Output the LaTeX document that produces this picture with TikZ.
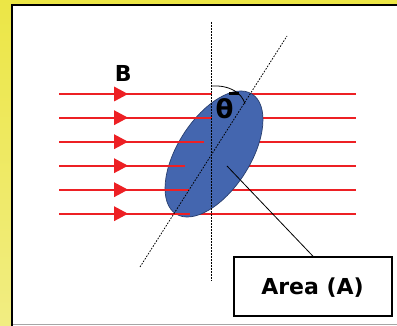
\documentclass[tikz,border=0pt]{standalone}
\usepackage{fontspec}
\setmainfont{DejaVu Sans}
\definecolor{ytop}{RGB}{236,230,70}
\definecolor{ybot}{RGB}{241,237,130}
\definecolor{fieldred}{RGB}{237,32,36}
\definecolor{discfill}{RGB}{68,102,175}
\definecolor{discedge}{RGB}{40,62,110}
\tikzset{
  fieldline/.style={draw=fieldred, line width=2pt},
  fieldtip/.style={fill=fieldred},
  axisline/.style={draw=black, line width=0.8pt, dash pattern=on 1.6pt off 1.4pt},
  bigtext/.style={font=\bfseries\fontsize{22}{22}\selectfont, inner sep=0pt}
}
\begin{document}
\begin{tikzpicture}[x=1pt,y=-1pt]
\useasboundingbox (0,0) rectangle (397,326);
% yellow background
\shade[top color=ytop, bottom color=ybot] (0,0) rectangle (397,326);
% white panel
\fill[white] (12,5) rectangle (400,326);
\draw[gray!70, line width=1pt] (12,324.5) -- (400,324.5);
\draw[black, line width=2.5pt] (12.2,330) -- (12.2,5.2) -- (400,5.2);
% field lines under the disc
\draw[fieldline] (59,94) -- (212,94);
\draw[fieldline] (246,94) -- (356,94);
\foreach \yy in {117.7,141.7,165.7,189.7,213.7}
  \draw[fieldline] (59,\yy) -- (356,\yy);
% disc
\filldraw[fill=discfill, draw=discedge, line width=0.7pt, rotate around={57.5:(214,154)}] (214,154) ellipse [x radius=71pt, y radius=36.4pt];
% field line parts over the disc
\draw[fieldline] (160,117.7) -- (212,117.7);
\draw[fieldline] (160,141.7) -- (204,141.7);
\draw[fieldline] (160,165.7) -- (185,165.7);
\draw[fieldline] (160,189.7) -- (189,189.7);
\draw[fieldline] (160,213.7) -- (190,213.7);
% arrow heads
\foreach \yy in {94,117.7,141.7,165.7,189.7,213.7}
  \fill[fieldtip] (114,\yy-7.5) -- (128,\yy) -- (114,\yy+7.5) -- cycle;
% axes
\coordinate (vtop) at (211.7,22);
\coordinate (vbot) at (211.7,281);
\coordinate (ttop) at (287,36);
\coordinate (tbot) at (140,267);
\draw[axisline] (vtop) -- (vbot);
\draw[axisline] (tbot) -- (ttop);
% angle arc
\coordinate (arcA) at (211.7,86);
\coordinate (arcB) at (245,104);
\draw[black, line width=0.8pt] (arcA) .. controls (230,85) and (242,93) .. (arcB);
\draw[black, line width=2.2pt] (229,93.5) -- (239,93.5);
% labels
\node[bigtext, font=\bfseries\fontsize{26}{26}\selectfont, anchor=base] (theta) at (224.5,118.5) {θ};
\node[bigtext, anchor=base] (blabel) at (123.3,81.5) {B};
% area box
\node[draw=black, line width=1.5pt, minimum width=158pt, minimum height=59pt, inner sep=0pt] (box) at (313,286.5) {};
\node[bigtext, anchor=base] (arealabel) at (312.5,295) {Area (A)};
\coordinate (leadstart) at (227,166);
\draw[black, line width=0.8pt] (leadstart) -- (box.north);
\end{tikzpicture}
\end{document}
